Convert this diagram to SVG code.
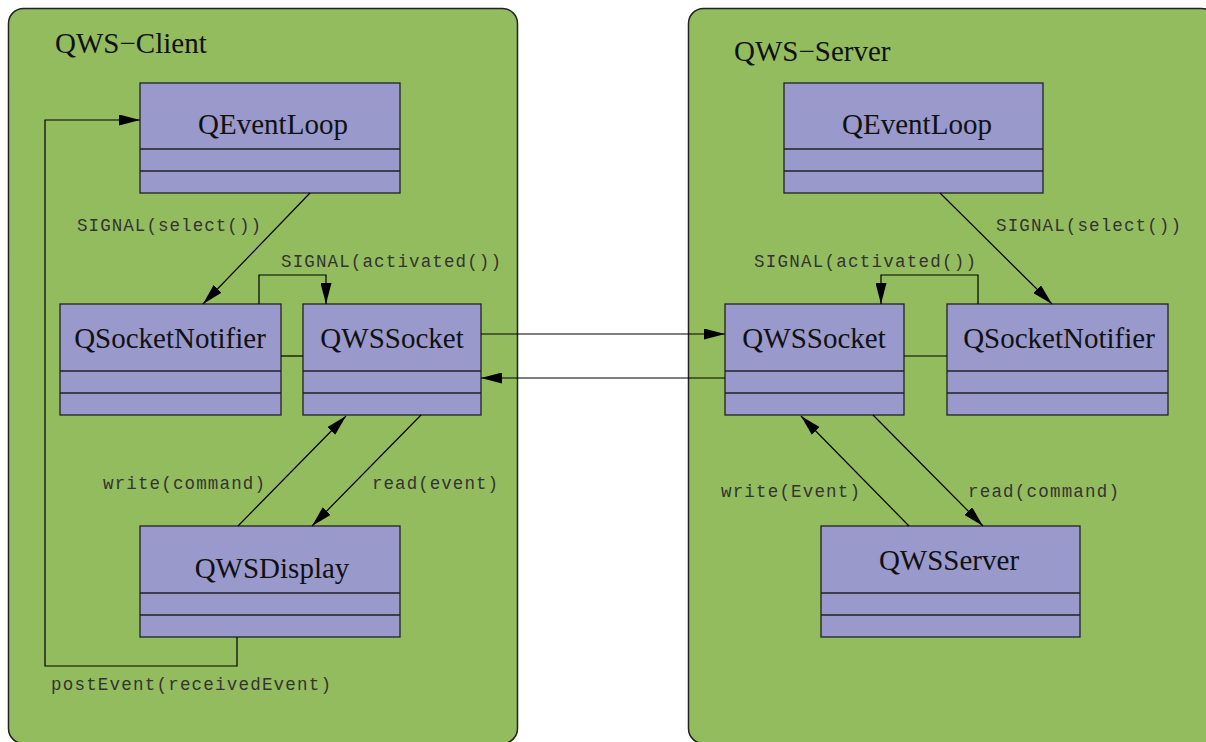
<svg xmlns="http://www.w3.org/2000/svg" width="1206" height="742" viewBox="0 0 1206 742">
  <defs>
    <style>
      .pkg { fill: #93bc5e; stroke: #222; stroke-width: 1.5; }
      .cls { fill: #9999cc; stroke: #222; stroke-width: 1.3; }
      .sep { stroke: #222; stroke-width: 1.3; fill: none; }
      .title { font-family: "Liberation Serif", "Times New Roman", serif; font-size: 29px; fill: #111; }
      .name { font-family: "Liberation Serif", "Times New Roman", serif; font-size: 29px; fill: #111; text-anchor: middle; }
      .lbl { font-family: "Liberation Mono", "Courier New", monospace; font-size: 17.5px; fill: #333; }
      .edge { stroke: #000; stroke-width: 1.2; fill: none; }
      .arrow { stroke: #000; stroke-width: 1.2; fill: none; marker-end: url(#head); }
    </style>
    <marker id="head" viewBox="0 0 21 11" refX="21" refY="5.5" markerWidth="21" markerHeight="11" markerUnits="userSpaceOnUse" orient="auto">
      <path d="M0,0 L21,5.5 L0,11 Z" fill="#000"/>
    </marker>
  </defs>

  <rect width="1206" height="742" fill="#fff"/>

  <!-- packages -->
  <g id="client-package">
    <rect class="pkg" x="8.5" y="8.5" width="509" height="735" rx="15" ry="15"/>
    <text class="title" x="55" y="53">QWS−Client</text>
  </g>
  <g id="server-package">
    <rect class="pkg" x="688.5" y="8.5" width="528" height="735" rx="15" ry="15"/>
    <text class="title" x="734" y="61">QWS−Server</text>
  </g>

  <!-- client classes -->
  <g id="client-qeventloop">
    <rect class="cls" x="140" y="83" width="260" height="110"/>
    <path class="sep" d="M140,149H400M140,171H400"/>
    <text class="name" x="273" y="134">QEventLoop</text>
  </g>
  <g id="client-qsocketnotifier">
    <rect class="cls" x="60" y="304" width="221" height="111"/>
    <path class="sep" d="M60,371H281M60,393H281"/>
    <text class="name" x="170" y="348">QSocketNotifier</text>
  </g>
  <g id="client-qwssocket">
    <rect class="cls" x="303" y="304" width="178" height="111"/>
    <path class="sep" d="M303,371H481M303,393H481"/>
    <text class="name" x="392" y="348">QWSSocket</text>
  </g>
  <g id="client-qwsdisplay">
    <rect class="cls" x="140" y="526" width="260" height="111"/>
    <path class="sep" d="M140,593H400M140,615H400"/>
    <text class="name" x="272" y="578">QWSDisplay</text>
  </g>

  <!-- server classes -->
  <g id="server-qeventloop">
    <rect class="cls" x="784" y="83" width="259" height="110"/>
    <path class="sep" d="M784,149H1043M784,171H1043"/>
    <text class="name" x="917" y="134">QEventLoop</text>
  </g>
  <g id="server-qwssocket">
    <rect class="cls" x="725" y="304" width="179" height="111"/>
    <path class="sep" d="M725,371H904M725,393H904"/>
    <text class="name" x="814" y="348">QWSSocket</text>
  </g>
  <g id="server-qsocketnotifier">
    <rect class="cls" x="947" y="304" width="221" height="111"/>
    <path class="sep" d="M947,371H1168M947,393H1168"/>
    <text class="name" x="1059" y="348">QSocketNotifier</text>
  </g>
  <g id="server-qwsserver">
    <rect class="cls" x="821" y="526" width="259" height="111"/>
    <path class="sep" d="M821,593H1080M821,615H1080"/>
    <text class="name" x="949" y="570">QWSServer</text>
  </g>

  <!-- connectors -->
  <g id="connectors">
    <!-- client side -->
    <path class="arrow" d="M310,193L203,304"/>
    <path class="arrow" d="M259,304V275H326V304"/>
    <path class="edge" d="M281,356H303"/>
    <path class="arrow" d="M238,526L346,416"/>
    <path class="arrow" d="M421,415L312,526"/>
    <path class="arrow" d="M237,637V666H45V120H140"/>
    <!-- socket link -->
    <path class="arrow" d="M481,334H725"/>
    <path class="arrow" d="M725,378H481"/>
    <!-- server side -->
    <path class="arrow" d="M940,193L1052,304"/>
    <path class="arrow" d="M978,304V275H881V304"/>
    <path class="edge" d="M904,356H947"/>
    <path class="arrow" d="M909,526L801,416"/>
    <path class="arrow" d="M873,415L983,526"/>
  </g>

  <!-- connector labels -->
  <g id="labels">
    <text class="lbl" x="77" y="231" textLength="184">SIGNAL(select())</text>
    <text class="lbl" x="281" y="267" textLength="220">SIGNAL(activated())</text>
    <text class="lbl" x="103" y="489" textLength="162">write(command)</text>
    <text class="lbl" x="372" y="489" textLength="126">read(event)</text>
    <text class="lbl" x="51" y="690" textLength="280">postEvent(receivedEvent)</text>
    <text class="lbl" x="996" y="231" textLength="185">SIGNAL(select())</text>
    <text class="lbl" x="754" y="267" textLength="222">SIGNAL(activated())</text>
    <text class="lbl" x="721" y="497" textLength="139">write(Event)</text>
    <text class="lbl" x="968" y="497" textLength="151">read(command)</text>
  </g>
</svg>
